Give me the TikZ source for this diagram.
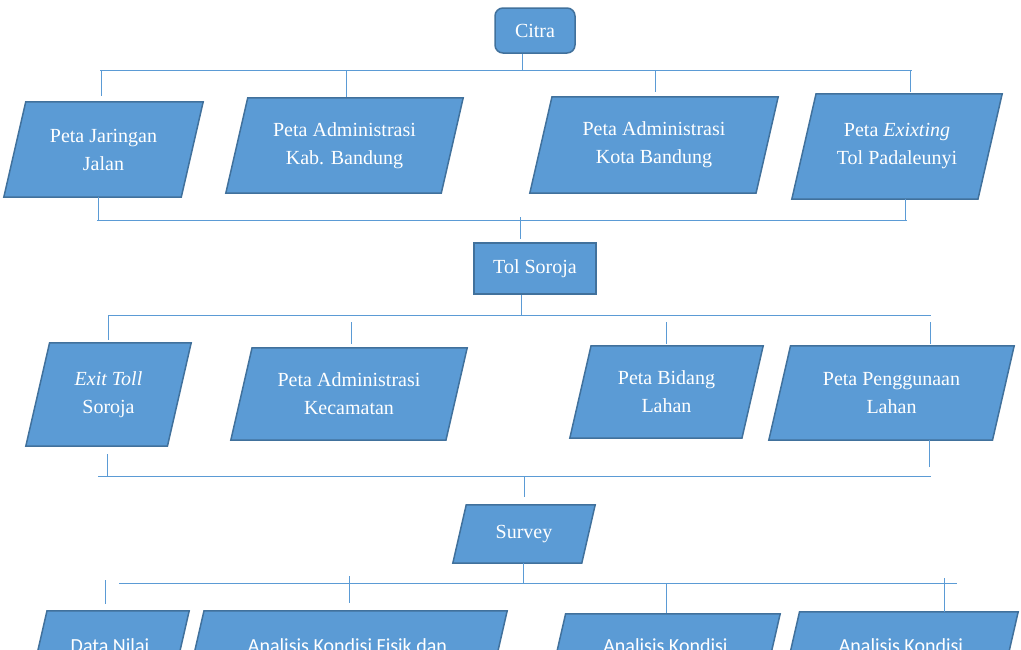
\documentclass[tikz,border=0pt]{standalone}
\usepackage{fontspec}
\setmainfont{Liberation Serif}
\newfontfamily\lowfont{Carlito}
\usetikzlibrary{calc,backgrounds}
\definecolor{boxfill}{HTML}{5B9BD5}
\definecolor{boxline}{HTML}{41719C}
\definecolor{linkblue}{HTML}{5B9BD5}

\begin{document}
\begin{tikzpicture}[
    x=1pt, y=-1pt,
    font=\fontsize{20}{28}\selectfont,
    io/.style={rectangle, text=white, align=center, inner sep=0pt},
    iolow/.style={io, font=\lowfont\fontsize{20}{24}\selectfont},
    iobox/.style={draw=boxline, fill=boxfill, line width=1.5pt},
    term/.style={rectangle, draw=boxline, fill=boxfill, line width=1.5pt,
      text=white, inner sep=0pt},
    link/.style={draw=linkblue, line width=1pt}
]
\useasboundingbox (0,0) rectangle (1021,649);
\clip (0,0) rectangle (1021,649);

% ---- top: citra and its sources ----
\node[term, rounded corners=8pt, minimum width=80, minimum height=45]
  (citra) at (535,30.5) {Citra};

\node[io, minimum width=199, minimum height=95] (jalan) at (103.5,149.5)
  {Peta Jaringan\\Jalan};
\node[io, minimum width=237, minimum height=95] (kab) at (344.5,145.5)
  {Peta Administrasi\\Kab. Bandung};
\node[io, minimum width=248, minimum height=96] (kota) at (654,145)
  {Peta Administrasi\\Kota Bandung};
\node[io, minimum width=210, minimum height=105] (exist) at (897,146.5)
  {Peta \textit{Exixting}\\Tol Padaleunyi};

\draw[link] (100,70) -- (912,70);
\draw[link] (522,70 |- citra.south) -- (522,70);
\foreach \x/\n/\g in {101/jalan/6, 346/kab/1, 655/kota/5, 910/exist/2}
  \draw[link, shorten >=\g pt] (\x,70) -- (\x,70 |- \n.north);

% ---- tol soroja ----
\node[term, minimum width=122, minimum height=51] (soroja) at (535,268.5)
  {Tol Soroja};

\draw[link] (97,220) -- (907,220);
\draw[link] (98,220) -- (98,220 |- jalan.south);
\draw[link] (905,220) -- (905,220 |- exist.south);
\draw[link, shorten >=3pt] (520,217) -- (520,217 |- soroja.north);

% ---- second row ----
\node[io, minimum width=165, minimum height=103] (exit) at (108.5,394.5)
  {\textit{Exit Toll}\\Soroja};
\node[io, minimum width=236, minimum height=92] (kec) at (349,394)
  {Peta Administrasi\\Kecamatan};
\node[io, minimum width=193, minimum height=92] (bidang) at (666.5,392)
  {Peta Bidang\\Lahan};
\node[io, minimum width=245, minimum height=94] (guna) at (891.5,393)
  {Peta Penggunaan\\Lahan};

\draw[link] (108,315) -- (931,315);
\draw[link] (521,315 |- soroja.south) -- (521,315);
\foreach \x/\y/\n/\g in {108/315/exit/3, 351/322/kec/4, 666/322/bidang/2,
                         930/322/guna/2}
  \draw[link, shorten >=\g pt] (\x,\y) -- (\x,\y |- \n.north);

% ---- survey ----
\node[io, minimum width=142, minimum height=58] (survey) at (524,534)
  {Survey};

\draw[link] (98,476) -- (931,476);
\draw[link, shorten >=8pt] (107,476) -- (107,476 |- exit.south);
\draw[link] (929,467) -- (929,467 |- guna.south);
\draw[link, shorten >=8pt] (524,476) -- (524,476 |- survey.north);

% ---- analysis row ----
\node[iolow, minimum width=158, minimum height=70] (nilai) at (110,646)
  {Data Nilai};
\node[iolow, minimum width=319, minimum height=70] (fisik) at (347.5,646)
  {Analisis Kondisi Fisik dan};
\node[iolow, minimum width=229, minimum height=64] (kondisia) at (665.5,646)
  {Analisis Kondisi};
\node[iolow, minimum width=234, minimum height=68] (kondisib) at (901,646)
  {Analisis Kondisi};

\draw[link] (119,583) -- (957,583);
\draw[link] (523,583 |- survey.south) -- (523,583);
\foreach \x/\y/\n/\g in {105/580/nilai/7, 349/576/fisik/8, 666/583/kondisia/1,
                         944/578/kondisib/0}
  \draw[link, shorten >=\g pt] (\x,\y) -- (\x,\y |- \n.north);

% ---- slanted input boxes behind the texts ----
\begin{scope}[on background layer]
\foreach \b in {jalan, kab, kota, exist, exit, kec, bidang, guna, survey,
                nilai, fisik, kondisia, kondisib}
  \path[iobox] let \p1=(\b.north east), \p2=(\b.south west),
    \n1={0.23*(\y1-\y2)} in
    (\x2+\n1,\y1) -- (\x1,\y1) -- (\x1-\n1,\y2) -- (\x2,\y2) -- cycle;
\end{scope}

\end{tikzpicture}
\end{document}
